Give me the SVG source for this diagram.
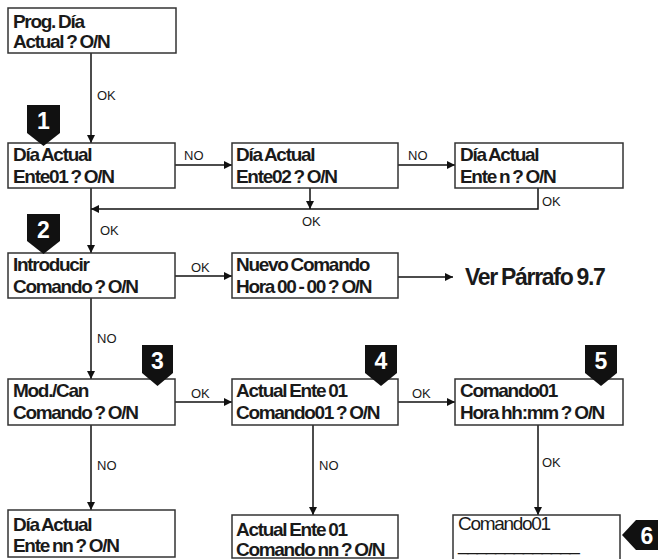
<svg xmlns="http://www.w3.org/2000/svg" width="658" height="559" viewBox="0 0 658 559">
<style>
.box{fill:#fff;stroke:#333;stroke-width:1.5}
.t{font-family:"Liberation Sans",Arial,sans-serif;font-weight:bold;font-size:19px;letter-spacing:-1.3px;word-spacing:-1px;fill:#1a1a1a}
.tn{font-family:"Liberation Sans",Arial,sans-serif;font-size:19px;letter-spacing:-1.3px;fill:#1a1a1a}
.lbl{font-family:"Liberation Sans",Arial,sans-serif;font-size:13px;fill:#1a1a1a}
.ln{fill:none;stroke:#111;stroke-width:1.5}
.badge{fill:#111}
.bn{font-family:"Liberation Sans",Arial,sans-serif;font-weight:bold;font-size:23px;fill:#fff;text-anchor:middle}
.big{font-family:"Liberation Sans",Arial,sans-serif;font-weight:bold;font-size:23px;letter-spacing:-1.3px;word-spacing:-1px;fill:#1a1a1a}
</style>
<defs>
<marker id="ah" viewBox="0 0 10 10" refX="10" refY="5" markerWidth="9" markerHeight="8" markerUnits="userSpaceOnUse" orient="auto">
<path d="M0,0 L10,5 L0,10 Z" fill="#111"/>
</marker>
</defs>

<g id="connectors">
<path class="ln" d="M91,53 V143" marker-end="url(#ah)"/>
<path class="ln" d="M175,165 H232" marker-end="url(#ah)"/>
<path class="ln" d="M398,165 H455" marker-end="url(#ah)"/>
<path class="ln" d="M538,188 V209 H91" marker-end="url(#ah)"/>
<path class="ln" d="M310,188 V209" marker-end="url(#ah)"/>
<path class="ln" d="M91,188 V253" marker-end="url(#ah)"/>
<path class="ln" d="M175,276 H232" marker-end="url(#ah)"/>
<path class="ln" d="M398,277 H453" marker-end="url(#ah)"/>
<path class="ln" d="M91,298 V379" marker-end="url(#ah)"/>
<path class="ln" d="M175,402 H232" marker-end="url(#ah)"/>
<path class="ln" d="M398,402 H455" marker-end="url(#ah)"/>
<path class="ln" d="M91,425 V510" marker-end="url(#ah)"/>
<path class="ln" d="M313,425 V515" marker-end="url(#ah)"/>
<path class="ln" d="M538,425 V515" marker-end="url(#ah)"/>
<text class="lbl" x="97" y="100">OK</text>
<text class="lbl" x="184" y="160">NO</text>
<text class="lbl" x="408" y="160">NO</text>
<text class="lbl" x="542" y="206">OK</text>
<text class="lbl" x="302" y="226">OK</text>
<text class="lbl" x="100" y="235">OK</text>
<text class="lbl" x="191" y="272">OK</text>
<text class="lbl" x="97" y="343">NO</text>
<text class="lbl" x="191" y="398">OK</text>
<text class="lbl" x="412" y="398">OK</text>
<text class="lbl" x="97" y="470">NO</text>
<text class="lbl" x="319" y="470">NO</text>
<text class="lbl" x="542" y="467">OK</text>
</g>

<g id="n-prog">
<rect class="box" x="8" y="8" width="168" height="45"/>
<text class="t" x="13" y="28">Prog. Día</text>
<text class="t" x="13" y="48">Actual ? O/N</text>
</g>

<g id="n-ente01">
<rect class="box" x="8" y="143" width="167" height="45"/>
<text class="t" x="13" y="161">Día Actual</text>
<text class="t" x="13" y="183">Ente01 ? O/N</text>
</g>
<g id="n-ente02">
<rect class="box" x="232" y="143" width="166" height="45"/>
<text class="t" x="236" y="161">Día Actual</text>
<text class="t" x="236" y="183">Ente02 ? O/N</text>
</g>
<g id="n-enten">
<rect class="box" x="455" y="143" width="168" height="45"/>
<text class="t" x="460" y="161">Día Actual</text>
<text class="t" x="460" y="183">Ente n ? O/N</text>
</g>

<g id="n-introducir">
<rect class="box" x="8" y="253" width="167" height="45"/>
<text class="t" x="13" y="271">Introducir</text>
<text class="t" x="13" y="293">Comando ? O/N</text>
</g>
<g id="n-nuevo">
<rect class="box" x="232" y="253" width="166" height="45"/>
<text class="t" x="236" y="271">Nuevo Comando</text>
<text class="t" x="236" y="293">Hora 00 - 00 ? O/N</text>
</g>
<g id="n-ver">
<text class="big" x="465" y="285">Ver Párrafo 9.7</text>
</g>

<g id="n-modcan">
<rect class="box" x="8" y="379" width="167" height="46"/>
<text class="t" x="13" y="397">Mod./Can</text>
<text class="t" x="13" y="419">Comando ? O/N</text>
</g>
<g id="n-actual01">
<rect class="box" x="232" y="379" width="166" height="46"/>
<text class="t" x="236" y="397">Actual Ente 01</text>
<text class="t" x="236" y="419">Comando01 ? O/N</text>
</g>
<g id="n-hora">
<rect class="box" x="455" y="379" width="168" height="46"/>
<text class="t" x="460" y="397">Comando01</text>
<text class="t" x="460" y="419">Hora hh:mm ? O/N</text>
</g>

<g id="n-entenn">
<rect class="box" x="8" y="510" width="167" height="47"/>
<text class="t" x="13" y="531">Día Actual</text>
<text class="t" x="13" y="552">Ente nn ? O/N</text>
</g>
<g id="n-comandonn">
<rect class="box" x="232" y="515" width="166" height="43"/>
<text class="t" x="236" y="536">Actual Ente 01</text>
<text class="t" x="236" y="556">Comando nn ? O/N</text>
</g>
<g id="n-comando01">
<rect class="box" x="453" y="515" width="167" height="50"/>
<text class="tn" x="458" y="530">Comando01</text>
<text class="tn" x="458" y="550" letter-spacing="-1.5">_____________</text>
</g>

<g id="badge1"><path class="badge" d="M27,105 H60 V133 L43.5,146 L27,133 Z"/><text class="bn" x="43.5" y="129">1</text></g>
<g id="badge2"><path class="badge" d="M27,214 H60 V241 L43.5,254 L27,241 Z"/><text class="bn" x="43.5" y="238">2</text></g>
<g id="badge3"><path class="badge" d="M142,345 H173 V373 L157.5,386 L142,373 Z"/><text class="bn" x="157.5" y="369">3</text></g>
<g id="badge4"><path class="badge" d="M365,345 H397 V373 L381,386 L365,373 Z"/><text class="bn" x="381" y="369">4</text></g>
<g id="badge5"><path class="badge" d="M585,345 H617 V373 L601,386 L585,373 Z"/><text class="bn" x="601" y="369">5</text></g>
<g id="badge6"><path class="badge" d="M658,520 V550 H636 L622,535 L636,520 Z"/><text class="bn" x="647" y="544">6</text></g>
</svg>
